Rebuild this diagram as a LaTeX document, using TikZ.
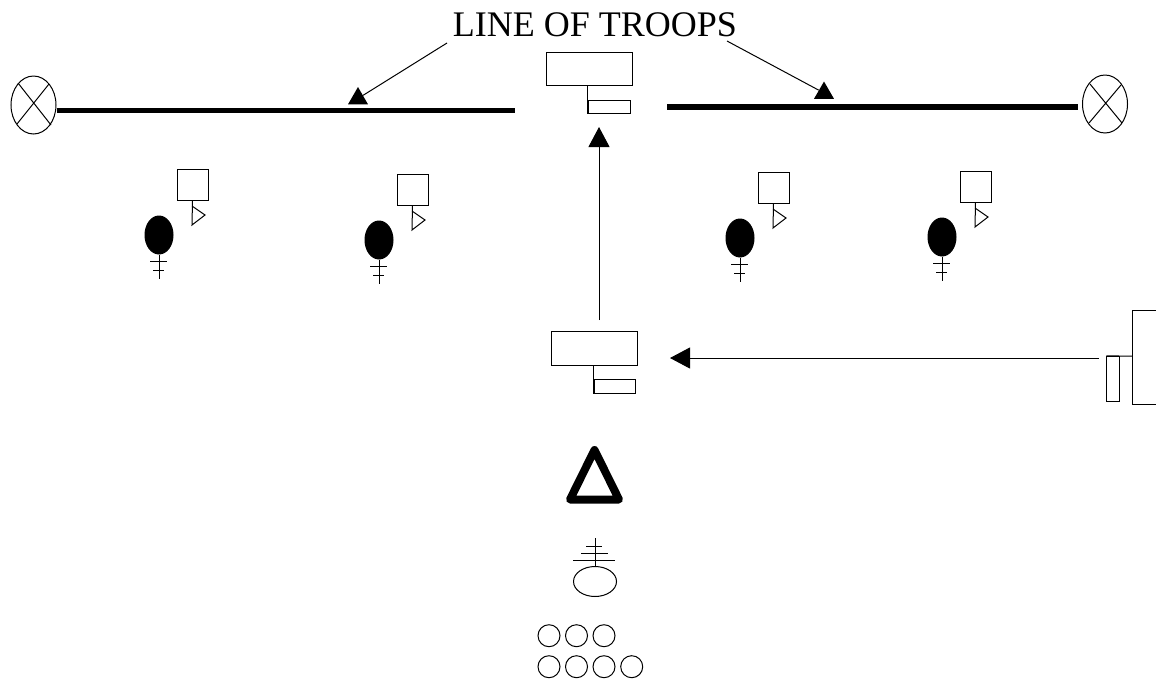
\documentclass[tikz,border=0pt]{standalone}
\usepackage{fontspec}
\setmainfont{Liberation Serif}
\usetikzlibrary{shapes.geometric,arrows.meta}
\def\px{0.75pt}
\tikzset{
	thin line/.style={line width=1*\px},
	box/.style={draw,thin line,rectangle,inner sep=0pt},
	mark oval/.style={draw,thin line,ellipse,inner sep=0pt,minimum width=45*\px,minimum height=58*\px},
	ring/.style={draw,thin line,circle,inner sep=0pt,minimum size=22*\px},
	man/.style={draw,thin line,fill=black,ellipse,inner sep=0pt,minimum width=28*\px,minimum height=38*\px},
	head/.style={fill=black,regular polygon,regular polygon sides=3,inner sep=0pt,minimum size=23*\px},
	troop line/.style={line width=5.5*\px},
	move/.style={thin line,-{Triangle[length=20*\px,width=21*\px]}}
}
\begin{document}
\begin{tikzpicture}[x=0.75pt,y=-0.75pt]
	\useasboundingbox (0,0) rectangle (1156,679);
	\node[anchor=base,font=\fontsize{27}{30}\selectfont,inner sep=0pt] (troops) at (595,36) {LINE OF TROOPS};
	\node[mark oval] (markL) at (33.5,105) {};
	\node[mark oval] (markR) at (1105,104) {};
	\draw[thin line] (18,83) -- (51,125) (49,84) -- (17,124);
	\draw[thin line] (1090,84) -- (1122,123) (1121,85) -- (1089,123);
	\coordinate (lineLa) at (57,110.5);
	\coordinate (lineLb) at (515,110.5);
	\coordinate (lineRa) at (667,107);
	\coordinate (lineRb) at (1078,107);
	\draw[troop line] (lineLa) -- (lineLb);
	\draw[troop line] (lineRa) -- (lineRb);
	\node[head] (headL) at (358,98.5) {};
	\node[head] (headR) at (824,93) {};
	\coordinate (troopsL) at (447,43);
	\coordinate (troopsR) at (727,41);
	\draw[thin line] (troopsL) -- (headL);
	\draw[thin line] (troopsR) -- (headR);
	% the four men
	\foreach \dx/\dy/\n in {0/0/a,220/5/b,581/3/c,783/2/d}{
		\begin{scope}[shift={(\dx,\dy)}]
			\node[box,minimum size=31*\px] (sq\n) at (192.5,184.5) {};
			\draw[thin line] (sq\n.south) -- (192,225) -- (205,215) -- (192,206);
			\node[man] (man\n) at (159,235) {};
			\coordinate (foot\n) at (159,279);
			\draw[thin line] (man\n.south) -- (foot\n) (150,261) -- (167,261) (153,270.5) -- (164,270.5);
		\end{scope}
	}
	% headquarters
	\node[box,minimum width=86*\px,minimum height=33.5*\px] (hqtop) at (589,68.75) {};
	\node[box,minimum width=42*\px,minimum height=13.5*\px] (hqtops) at (609,106.75) {};
	\draw[thin line] (hqtop.south -| hqtops.west) -- (hqtops.south west);
	\node[box,minimum width=85.5*\px,minimum height=33.5*\px] (hqlow) at (594.5,348.25) {};
	\node[box,minimum width=41.5*\px,minimum height=13.5*\px] (hqlows) at (614.75,386.25) {};
	\draw[thin line] (hqlow.south -| hqlows.west) -- (hqlows.south west);
	\coordinate (upa) at (599,320);
	\coordinate (upb) at (599,127);
	\draw[move] (upa) -- (upb);
	\coordinate (lefta) at (1099,358);
	\coordinate (leftb) at (670,358);
	\draw[move] (lefta) -- (leftb);
	% unit on the right
	\coordinate (uta) at (1156,310);
	\coordinate (utb) at (1156,404);
	\draw[thin line] (uta) -- (1132.5,310) -- (1132.5,404) -- (utb);
	\node[box,minimum width=13*\px,minimum height=45.5*\px] (unitflag) at (1113.25,379) {};
	\draw[thin line] (unitflag.north west) -- (1132.5,356.25);
	% triangle
	\draw[line width=8*\px,line join=round] (594.5,450) -- (619,499.5) -- (570,499.5) -- cycle;
	% oval
	\node[draw,thin line,ellipse,inner sep=0pt,minimum width=43*\px,minimum height=30*\px] (oval) at (595,581.5) {};
	\coordinate (ovaltop) at (595,538);
	\draw[thin line] (oval.north) -- (ovaltop) (573,560.7) -- (615,560.7) (581,553.3) -- (608,553.3) (586,546.3) -- (602,546.3);
	% rings
	\foreach \x/\n in {549/a,576.5/b,604/c}{
		\node[ring] (top\n) at (\x,635.7) {};
	}
	\foreach \x/\n in {549/a,576.5/b,604/c,631.7/d}{
		\node[ring] (low\n) at (\x,666.7) {};
	}
\end{tikzpicture}
\end{document}
